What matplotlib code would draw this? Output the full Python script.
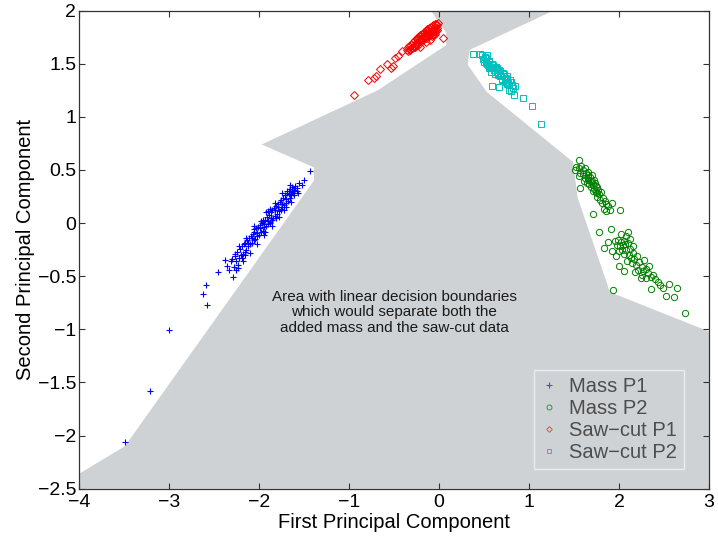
import numpy as np
import matplotlib
matplotlib.use('Agg')
import matplotlib.pyplot as plt
from matplotlib.patches import Polygon

plt.rcParams['font.family'] = ['Liberation Sans', 'DejaVu Sans']

## donnees
# Mass P1 (croix bleues)
mass1_x = [-3.49, -3.21, -3.00, -2.58, -2.62, -2.59, -2.45, -2.29, -2.30, -2.26, -2.23,
           -2.35, -2.33, -2.31, -2.28, -2.27, -2.25, -2.24, -2.22, -2.21, -2.20, -2.19, -2.18,
           -2.17, -2.16, -2.15, -2.14, -2.13, -2.12, -2.11, -2.10, -2.09, -2.08, -2.07, -2.06,
           -2.05, -2.04, -2.03, -2.02, -2.01, -2.00, -1.99, -1.98, -1.97, -1.96, -1.95, -1.94,
           -1.93, -1.92, -1.91, -1.90, -1.89, -1.88, -1.87, -1.86, -1.85, -1.84, -1.83, -1.82,
           -1.81, -1.80, -1.79, -1.78, -1.77, -1.76, -1.75, -1.74, -1.73, -1.72, -1.71, -1.70,
           -1.69, -1.68, -1.67, -1.66, -1.65, -1.64, -1.63, -1.62, -1.60, -1.58, -1.55, -1.52,
           -1.50, -1.43,
           -2.125, -2.075, -2.025, -1.985, -1.945, -1.905, -1.865, -1.825, -1.785, -1.745,
           -1.705, -1.665, -1.635, -1.615, -1.595, -1.575, -1.565, -1.69, -1.755, -1.815,
           -1.875, -1.935, -1.88, -1.96, -2.05, -2.16, -2.235, -2.19, -1.70,
           -2.22, -2.14, -2.06, -1.98, -1.90, -1.82, -1.74, -1.66, -2.18, -2.10, -2.02,
           -1.94, -1.86, -1.78, -1.72, -1.64, -2.27, -1.61, -2.38, -1.92]
mass1_y = [-2.06, -1.58, -1.01, -0.77, -0.67, -0.58, -0.46, -0.51, -0.34, -0.44, -0.42,
           -0.40, -0.44, -0.36, -0.41, -0.31, -0.36, -0.27, -0.33, -0.24, -0.30, -0.22, -0.29,
           -0.20, -0.27, -0.19, -0.25, -0.16, -0.22, -0.14, -0.20, -0.12, -0.19, -0.10, -0.16,
           -0.08, -0.15, -0.05, -0.12, -0.04, -0.11, -0.02, -0.08, 0.00, -0.07, 0.02, -0.04,
           0.03, -0.03, 0.06, -0.01, 0.08, 0.01, 0.10, 0.03, 0.12, 0.05, 0.14, 0.07,
           0.16, 0.09, 0.18, 0.11, 0.20, 0.13, 0.22, 0.15, 0.24, 0.17, 0.26, 0.19,
           0.28, 0.21, 0.30, 0.24, 0.32, 0.26, 0.34, 0.28, 0.33, 0.30, 0.38, 0.36,
           0.41, 0.49,
           -0.19, -0.14, -0.09, -0.05, -0.01, 0.02, 0.05, 0.12, 0.15, 0.18,
           0.23, 0.27, 0.29, 0.31, 0.35, 0.33, 0.28, 0.30, 0.12, 0.05,
           0.00, -0.08, 0.13, 0.03, -0.03, -0.30, -0.39, -0.33, 0.15,
           -0.22, -0.14, -0.06, 0.02, 0.11, 0.19, 0.28, 0.36, -0.36, -0.28, -0.20,
           -0.11, -0.03, 0.06, 0.12, 0.20, -0.29, 0.26, -0.35, 0.10]

# Mass P2 (cercles verts)
mass2_x = [1.55, 1.51, 1.52, 1.55, 1.58, 1.60, 1.62, 1.57, 1.60, 1.63, 1.65, 1.62, 1.66, 1.68,
           1.70, 1.67, 1.64, 1.71, 1.73, 1.69, 1.72, 1.75, 1.77, 1.74, 1.78, 1.80, 1.76, 1.82,
           1.79, 1.84, 1.81, 1.86, 1.57, 1.715, 2.01, 1.83, 1.88, 1.92, 1.90, 1.86, 1.66, 1.70,
           1.72, 1.61, 1.56, 1.69, 1.74, 1.71, 1.76, 1.65,
           1.78, 1.91, 1.83, 1.93, 2.36, 2.49, 2.64, 2.52, 2.61, 2.73,
           1.96, 1.99, 2.02, 2.05, 1.98, 2.01, 2.04, 2.07, 2.10, 2.00, 2.03, 2.08, 2.12, 2.06,
           2.11, 2.15, 2.13, 2.17, 2.20, 2.09, 2.14, 2.19, 2.22, 2.25, 2.21, 2.27, 2.30, 2.32,
           2.26, 2.35, 2.38, 2.40, 2.30, 2.43, 2.18, 2.24, 2.02, 2.08, 2.12, 1.92, 1.97, 2.16,
           2.28, 2.33, 2.46, 2.06, 1.88, 2.55, 2.10, 2.00]
mass2_y = [0.59, 0.50, 0.53, 0.52, 0.54, 0.50, 0.52, 0.47, 0.46, 0.47, 0.45, 0.42, 0.41, 0.43,
           0.40, 0.37, 0.38, 0.36, 0.38, 0.34, 0.32, 0.34, 0.31, 0.29, 0.27, 0.29, 0.25, 0.24,
           0.22, 0.21, 0.19, 0.18, 0.33, 0.09, 0.12, 0.13, 0.16, 0.19, 0.12, 0.11, 0.48, 0.45,
           0.41, 0.40, 0.44, 0.39, 0.35, 0.30, 0.28, 0.43,
           -0.08, -0.06, -0.23, -0.63, -0.62, -0.61, -0.61, -0.69, -0.70, -0.85,
           -0.17, -0.16, -0.18, -0.17, -0.21, -0.22, -0.21, -0.20, -0.19, -0.26, -0.25, -0.25,
           -0.24, -0.29, -0.30, -0.28, -0.33, -0.34, -0.31, -0.36, -0.38, -0.39, -0.37, -0.41,
           -0.44, -0.45, -0.43, -0.47, -0.49, -0.51, -0.49, -0.53, -0.52, -0.55, -0.46, -0.52,
           -0.10, -0.12, -0.15, -0.26, -0.31, -0.22, -0.35, -0.40, -0.58, -0.45, -0.18, -0.57,
           -0.08, -0.40]

# Saw-cut P1 (losanges rouges)
saw1_x = [-0.94, -0.79, -0.70, -0.72, -0.66, -0.58, -0.53, -0.51, -0.49, -0.46, -0.41, 0.04,
          -0.10, -0.21, -0.15,
          -0.36, -0.35, -0.34, -0.33, -0.32, -0.31, -0.30, -0.29, -0.28, -0.27, -0.26, -0.25,
          -0.24, -0.23, -0.22, -0.21, -0.20, -0.19, -0.18, -0.17, -0.16, -0.15, -0.14, -0.13,
          -0.12, -0.11, -0.10, -0.09, -0.08, -0.07, -0.06, -0.05, -0.04, -0.03, -0.02, -0.01,
          -0.32, -0.30, -0.28, -0.26, -0.24, -0.22, -0.20, -0.18, -0.16, -0.14, -0.12, -0.10,
          -0.08, -0.06, -0.04, -0.02, -0.25, -0.21, -0.17, -0.13, -0.09, -0.05, -0.03, -0.07,
          -0.11, -0.15, -0.19, -0.23, -0.27, -0.02, -0.04, -0.06, -0.08]
saw1_y = [1.21, 1.35, 1.38, 1.37, 1.45, 1.50, 1.46, 1.48, 1.55, 1.57, 1.62, 1.74,
          1.72, 1.66, 1.70,
          1.63, 1.66, 1.62, 1.67, 1.64, 1.68, 1.65, 1.70, 1.67, 1.72, 1.69, 1.74,
          1.70, 1.75, 1.72, 1.77, 1.73, 1.78, 1.75, 1.80, 1.76, 1.81, 1.78, 1.83,
          1.79, 1.84, 1.80, 1.85, 1.82, 1.86, 1.83, 1.87, 1.84, 1.87, 1.86, 1.88,
          1.63, 1.65, 1.66, 1.68, 1.69, 1.71, 1.72, 1.73, 1.75, 1.76, 1.77, 1.79,
          1.80, 1.81, 1.82, 1.84, 1.73, 1.76, 1.79, 1.82, 1.85, 1.80, 1.81, 1.78,
          1.76, 1.74, 1.71, 1.68, 1.66, 1.82, 1.78, 1.77, 1.76]

# Saw-cut P2 (carres cyan)
saw2_x = [0.38, 0.46, 0.53, 0.59, 0.67, 0.83, 0.93, 1.03, 1.13, 0.80, 0.78,
          0.48, 0.50, 0.52, 0.54, 0.56, 0.58, 0.60, 0.62, 0.64, 0.66, 0.68, 0.70, 0.72, 0.74,
          0.76, 0.78, 0.80, 0.82, 0.84, 0.49, 0.51, 0.53, 0.55, 0.57, 0.59, 0.61, 0.63, 0.65,
          0.67, 0.69, 0.71, 0.73, 0.75, 0.77, 0.79, 0.81, 0.52, 0.56, 0.60, 0.64, 0.68, 0.72,
          0.76, 0.58, 0.62, 0.66, 0.70, 0.74, 0.55]
saw2_y = [1.59, 1.59, 1.58, 1.29, 1.28, 1.21, 1.18, 1.10, 0.93, 1.24, 1.25,
          1.58, 1.52, 1.55, 1.49, 1.52, 1.46, 1.49, 1.42, 1.46, 1.39, 1.43, 1.36, 1.40, 1.33,
          1.36, 1.30, 1.33, 1.27, 1.29, 1.54, 1.56, 1.50, 1.53, 1.47, 1.50, 1.44, 1.47, 1.41,
          1.44, 1.38, 1.41, 1.35, 1.38, 1.32, 1.35, 1.30, 1.51, 1.48, 1.47, 1.45, 1.38, 1.38,
          1.31, 1.42, 1.40, 1.44, 1.35, 1.37, 1.46]

# zone grise (frontieres de decision lineaires)
zone_x = [-4.0, -3.49, -1.39, -1.39, -1.97, -0.68, 0.08, 0.08, -0.09, -0.09, 1.27, 1.27,
          0.34, 0.32, 0.53, 1.49, 1.54, 1.90, 3.0, 3.0, -4.0]
zone_y = [-2.36, -2.10, 0.40, 0.525, 0.74, 1.25, 1.675, 1.79, 2.0, 2.1, 2.1, 2.0,
          1.63, 1.49, 1.235, 0.575, 0.24, -0.65, -1.02, -2.5, -2.5]

legende = ['Mass P1', 'Mass P2', 'Saw\u2212cut P1', 'Saw\u2212cut P2']
texte_zone = ('Area with linear decision boundaries\n'
              'which would separate both the\n'
              'added mass and the saw-cut data')

gris = '#cfd2d5'
# couleurs attenuees des marqueurs de la legende (voile gris par dessus)
couleurs_legende = ['#4b4bd8', '#3c8f52', '#e0504f', '#2fb8c0']

##figure
fig = plt.figure(figsize=(7.18, 5.36), dpi=100)
ax = fig.add_axes([0.110, 0.0882, 0.8775, 0.892])

ax.add_patch(Polygon(np.column_stack([zone_x, zone_y]), closed=True,
                     facecolor=gris, edgecolor='none', zorder=1))

ax.plot(mass1_x, mass1_y, '+', color='#0000ff', ms=5, mew=0.8, label=legende[0], zorder=3)
ax.plot(mass2_x, mass2_y, 'o', mfc='none', mec='#008000', ms=4.5, mew=0.7, label=legende[1], zorder=3)
ax.plot(saw1_x, saw1_y, 'D', mfc='none', mec='#ff0000', ms=3.6, mew=0.7, label=legende[2], zorder=3)
ax.plot(saw2_x, saw2_y, 's', mfc='none', mec='#00bfbf', ms=4, mew=0.7, label=legende[3], zorder=3)

ax.text(-0.5, -0.84, texte_zone, ha='center', va='center', fontsize=11,
        color='#1a1a1a', linespacing=1.15, zorder=4)

ax.set_xlim(-4, 3)
ax.set_ylim(-2.5, 2)
ax.set_xticks(range(-4, 4))
ax.set_yticks(np.arange(-2.5, 2.01, 0.5))
ax.set_yticklabels(['\u22122.5', '\u22122', '\u22121.5', '\u22121', '\u22120.5', '0',
                    '0.5', '1', '1.5', '2'])
ax.tick_params(direction='in', length=4, width=0.8, top=True, right=True,
               labelsize=14, pad=2, color='#333333')
ax.tick_params(axis='x', pad=4)
for s in ax.spines.values():
    s.set_color('#333333')
    s.set_linewidth(0.9)
    s.set_zorder(5)

ax.set_xlabel('First Principal Component', fontsize=14.5, labelpad=1)
ax.set_ylabel('Second Principal Component', fontsize=14.5, labelpad=2)

leg = ax.legend(loc='lower right', bbox_to_anchor=(0.96, 0.041), borderaxespad=0,
                fontsize=14.5, frameon=True, fancybox=False, facecolor=gris,
                edgecolor='#ebecee', framealpha=1, handlelength=0.8, handletextpad=0.6,
                labelspacing=0.15, borderpad=0.35, markerscale=0.8)
for t in leg.get_texts():
    t.set_color('#4d4d4d')
for h, c in zip(leg.legend_handles, couleurs_legende):
    h.set_markeredgecolor(c)

fig.savefig('out.png', dpi=100)
